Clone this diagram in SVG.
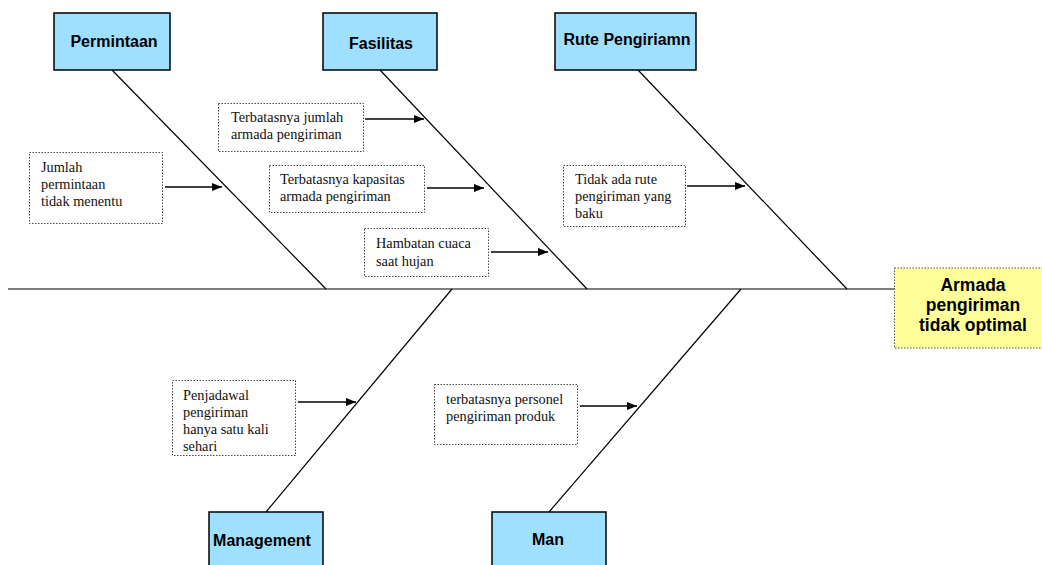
<svg xmlns="http://www.w3.org/2000/svg" width="1042" height="565" viewBox="0 0 1042 565">
<style>
.cat{fill:#9fdfff;stroke:#000;stroke-width:1.5}
.cl{font-family:"Liberation Sans",Arial,sans-serif;font-weight:bold;font-size:16px;fill:#000;text-anchor:middle}
.tb{fill:#fff;stroke:#444;stroke-width:1;stroke-dasharray:1.5 1.5}
.tt{font-family:"Liberation Serif","Times New Roman",serif;font-size:14.3px;fill:#111}
.bone{stroke:#000;stroke-width:1.2;fill:none}
.arr{stroke:#000;stroke-width:1.6;fill:none;marker-end:url(#ah)}
.eff{fill:#ffff99;stroke:#555;stroke-width:1;stroke-dasharray:1.5 1.5}
.el{font-family:"Liberation Sans",Arial,sans-serif;font-weight:bold;font-size:17.5px;fill:#000;text-anchor:middle}
</style>
<defs>
<marker id="ah" markerWidth="10" markerHeight="8" refX="10" refY="4" orient="auto" markerUnits="userSpaceOnUse">
<path d="M0,0 L10,4 L0,8 Z" fill="#000"/>
</marker>
</defs>
<rect width="1042" height="565" fill="#fff"/>
<g id="connectors">
<line class="bone" x1="8" y1="289" x2="895" y2="289" stroke-width="1.5"/>
<line class="bone" x1="112" y1="70" x2="326" y2="289"/>
<line class="bone" x1="380" y1="70" x2="587" y2="289"/>
<line class="bone" x1="638" y1="70" x2="847" y2="289"/>
<line class="bone" x1="452" y1="289" x2="266" y2="512"/>
<line class="bone" x1="741" y1="289" x2="549" y2="512"/>
<line class="arr" x1="165" y1="187" x2="222" y2="187"/>
<line class="arr" x1="365" y1="119" x2="424" y2="119"/>
<line class="arr" x1="427" y1="188" x2="484" y2="188"/>
<line class="arr" x1="491" y1="252" x2="548" y2="252"/>
<line class="arr" x1="687" y1="186" x2="745" y2="186"/>
<line class="arr" x1="298" y1="402" x2="356" y2="402"/>
<line class="arr" x1="580" y1="406" x2="637" y2="406"/>
</g>
<g id="permintaan"><rect class="cat" x="54" y="13" width="116" height="57"/><text class="cl" x="114" y="47">Permintaan</text></g>
<g id="fasilitas"><rect class="cat" x="323" y="13" width="114" height="57"/><text class="cl" x="381" y="49">Fasilitas</text></g>
<g id="rute"><rect class="cat" x="555" y="13" width="141" height="57"/><text class="cl" x="627" y="45">Rute Pengiriamn</text></g>
<g id="management"><rect class="cat" x="209" y="512" width="114" height="60"/><text class="cl" x="262" y="546">Management</text></g>
<g id="man"><rect class="cat" x="492" y="512" width="114" height="60"/><text class="cl" x="548" y="545">Man</text></g>
<g id="effect"><rect class="eff" x="894.5" y="268" width="150" height="80"/><text class="el" x="973" y="291">Armada</text><text class="el" x="973" y="311">pengiriman</text><text class="el" x="973" y="331">tidak optimal</text></g>
<g id="c1"><rect class="tb" x="29.5" y="152.5" width="133" height="71"/><text class="tt" x="41" y="172">Jumlah</text><text class="tt" x="41" y="189">permintaan</text><text class="tt" x="41" y="206">tidak menentu</text></g>
<g id="c2"><rect class="tb" x="218.5" y="103.5" width="145" height="48"/><text class="tt" x="231" y="122">Terbatasnya jumlah</text><text class="tt" x="231" y="139">armada pengiriman</text></g>
<g id="c3"><rect class="tb" x="269.5" y="165.5" width="155" height="47"/><text class="tt" x="280" y="184">Terbatasnya kapasitas</text><text class="tt" x="280" y="201">armada pengiriman</text></g>
<g id="c4"><rect class="tb" x="364.5" y="228.5" width="124" height="48"/><text class="tt" x="376" y="248">Hambatan cuaca</text><text class="tt" x="376" y="266">saat hujan</text></g>
<g id="c5"><rect class="tb" x="563.5" y="165.5" width="122" height="61"/><text class="tt" x="575" y="184">Tidak ada rute</text><text class="tt" x="575" y="201">pengiriman yang</text><text class="tt" x="575" y="218">baku</text></g>
<g id="c6"><rect class="tb" x="172.5" y="380.5" width="123" height="75"/><text class="tt" x="183" y="400">Penjadawal</text><text class="tt" x="183" y="417">pengiriman</text><text class="tt" x="183" y="434">hanya satu kali</text><text class="tt" x="183" y="451">sehari</text></g>
<g id="c7"><rect class="tb" x="434.5" y="384.5" width="143" height="60"/><text class="tt" x="446" y="404">terbatasnya personel</text><text class="tt" x="446" y="421">pengiriman produk</text></g>
</svg>
